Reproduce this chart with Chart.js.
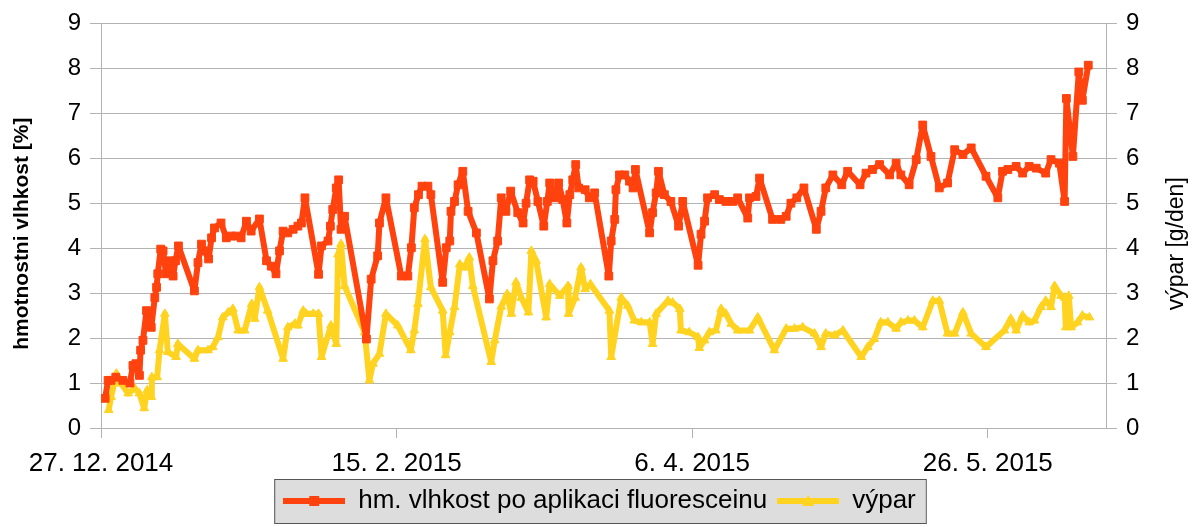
<!DOCTYPE html>
<html>
<head>
<meta charset="utf-8">
<script src="https://cdn.jsdelivr.net/npm/chart.js@4/dist/chart.umd.min.js"></script>
<style>
  html, body { margin: 0; padding: 0; background: #fff; }
  #wrap { width: 1199px; height: 527px; }
</style>
</head>
<body>
<div id="wrap"><canvas id="chart" width="1199" height="527"></canvas></div>
<script>
// days counted from 27. 12. 2014
var startDate = [2014, 11, 27];

var moistureLabel = 'hm. vlhkost po aplikaci fluoresceinu';
var moistureDays = [0.7,1.2,1.7,2.5,3.7,4.9,5.4,5.9,6.5,6.7,7.1,7.7,8.0,8.5,9.1,9.4,9.6,10.1,10.5,11.0,11.6,12.2,12.6,13.1,15.8,16.4,17.0,17.5,18.2,18.7,19.2,20.3,21.2,22.0,22.9,23.7,24.6,25.4,26.8,28.0,28.8,29.6,30.2,30.8,31.6,32.5,33.3,33.9,34.5,36.8,37.3,38.4,38.8,39.2,39.8,40.2,40.6,41.2,44.9,45.7,46.8,47.1,48.2,50.8,51.9,52.5,53.0,53.7,54.3,55.3,55.8,57.8,58.4,59.0,59.2,59.8,60.4,61.2,62.1,63.5,65.7,66.3,67.1,67.7,68.5,69.3,70.5,71.4,71.9,72.5,73.1,73.9,74.9,75.5,75.9,76.7,77.4,78.1,78.8,79.3,79.8,80.3,80.8,81.9,82.6,83.5,85.9,86.3,86.9,87.1,87.7,88.6,89.4,90.0,90.4,92.8,93.3,93.9,94.3,95.3,96.4,97.7,98.4,101.0,101.5,102.1,102.6,103.8,104.6,105.7,106.9,107.7,109.4,109.7,110.8,111.4,113.6,115.0,115.9,116.7,117.7,118.9,121.0,121.8,122.6,123.8,125.3,126.3,128.4,129.4,130.5,131.7,133.4,134.5,135.3,136.7,137.9,139.0,140.4,141.8,143.2,144.4,145.8,147.2,149.7,151.7,152.5,153.4,154.8,155.9,157.0,158.2,159.8,160.7,162.1,163.0,163.3,164.4,165.4,166.0,167.0];
var moistureValues = [0.66,1.06,1.06,1.13,1.06,1.0,1.39,1.43,1.17,1.73,1.95,2.61,2.39,2.24,2.9,3.13,3.43,3.98,3.94,3.43,3.72,3.38,3.72,4.05,3.05,3.68,4.09,3.94,3.76,4.23,4.45,4.56,4.23,4.27,4.27,4.23,4.6,4.38,4.65,3.72,3.6,3.43,3.94,4.38,4.34,4.42,4.49,4.56,5.12,3.42,4.05,4.16,4.49,4.86,5.34,5.52,4.42,4.71,1.98,3.31,3.83,4.56,5.12,3.38,3.38,4.01,4.9,5.19,5.38,5.38,5.19,3.24,4.01,4.16,4.82,5.04,5.41,5.71,4.82,4.34,2.87,3.72,4.16,5.12,4.82,5.27,4.79,4.56,5.0,5.52,5.49,5.04,4.49,5.04,5.45,5.12,5.45,5.08,4.56,5.19,5.52,5.86,5.34,5.3,5.12,5.23,3.38,4.16,4.64,5.3,5.63,5.63,5.49,5.34,5.75,4.34,4.79,5.23,5.71,5.19,5.04,4.49,5.04,3.62,4.31,4.6,5.12,5.19,5.08,5.04,5.04,5.12,4.67,5.12,5.15,5.56,4.64,4.64,4.71,5.0,5.12,5.34,4.42,4.82,5.34,5.63,5.41,5.71,5.41,5.67,5.75,5.86,5.63,5.89,5.63,5.41,5.97,6.74,6.04,5.34,5.45,6.19,6.08,6.23,5.6,5.12,5.71,5.75,5.82,5.67,5.82,5.78,5.67,5.97,5.89,5.04,7.33,6.04,7.92,7.29,8.07];

var evapLabel = 'výpar';
var evapDays = [1.3,1.7,2.6,3.4,4.6,5.7,6.5,7.3,7.8,8.5,8.6,9.5,9.9,10.8,11.3,12.7,13.0,15.8,16.4,18.1,18.9,19.8,20.6,21.5,22.3,23.2,24.3,25.5,26.0,26.8,28.2,30.8,31.6,32.8,33.3,34.2,34.7,35.9,36.8,37.3,38.9,39.8,40.1,40.6,41.2,44.6,45.4,46.0,47.1,48.2,50.2,52.4,53.0,53.6,54.8,55.8,57.8,58.3,59.0,59.8,60.7,61.5,62.3,62.9,66.0,66.6,67.7,68.7,69.4,70.2,71.1,72.3,72.8,73.6,75.3,75.9,77.6,79.0,79.1,80.2,81.2,81.9,82.8,86.0,86.3,88.0,89.1,90.2,91.4,92.8,93.3,93.9,95.9,96.7,97.9,98.1,99.5,101.0,101.2,102.1,102.9,104.0,104.9,105.7,106.6,107.7,109.7,111.1,113.9,115.9,117.3,118.7,120.7,121.8,122.6,124.1,125.5,128.6,129.7,130.8,131.9,133.1,134.5,135.3,136.5,137.6,139.0,140.7,141.8,143.2,144.4,145.8,147.2,149.7,152.8,153.9,154.8,155.9,157.0,157.9,159.0,159.8,160.7,161.3,162.4,163.0,163.2,163.7,164.1,165.2,166.0,167.2];
var evapValues = [0.4,0.69,1.21,0.99,0.77,0.88,0.77,0.44,0.84,0.69,1.13,1.13,1.73,2.54,1.69,1.58,1.87,1.54,1.73,1.73,1.8,2.02,2.46,2.57,2.65,2.17,2.17,2.76,2.43,3.13,2.61,1.54,2.24,2.32,2.28,2.61,2.54,2.54,2.54,1.58,2.28,1.87,3.86,4.09,3.16,2.13,1.06,1.43,1.65,2.54,2.28,1.73,2.17,2.76,4.2,3.13,2.61,1.62,2.13,2.69,3.64,3.57,3.79,3.16,1.47,1.95,2.7,2.98,2.54,3.24,2.9,2.57,3.94,3.72,2.46,3.2,2.94,3.16,2.54,2.9,3.57,3.09,3.2,2.61,1.58,2.9,2.72,2.39,2.35,2.35,1.87,2.54,2.83,2.79,2.65,2.17,2.13,2.02,1.78,1.95,2.13,2.17,2.65,2.54,2.32,2.17,2.17,2.46,1.73,2.21,2.21,2.24,2.1,1.8,2.1,2.06,2.17,1.58,1.8,1.98,2.35,2.35,2.21,2.35,2.39,2.39,2.24,2.83,2.83,2.1,2.1,2.57,2.1,1.8,2.17,2.43,2.17,2.5,2.35,2.39,2.69,2.83,2.69,3.16,2.94,2.9,2.24,2.94,2.24,2.35,2.5,2.46];

var xTicks = [0, 50, 100, 150];
var yTicks = [0, 1, 2, 3, 4, 5, 6, 7, 8, 9];
var leftTitle = 'hmotnostni vlhkost [%]';
var rightTitle = 'výpar [g/den]';

var redColor = '#ff420e';
var yellowColor = '#ffd320';
var gridColor = '#b3b3b3';
var fontFamily = "'Liberation Sans', Arial, sans-serif";

function toPoints(days, values) {
    return days.map(function (d, i) { return { x: d, y: values[i] }; });
}

function dayLabel(value) {
    var d = new Date(startDate[0], startDate[1], startDate[2] + value);
    return d.getDate() + '. ' + (d.getMonth() + 1) + '. ' + d.getFullYear();
}

// small picture of line + marker for the legend
function legendIcon(color, shape) {
    var c = document.createElement('canvas');
    c.width = 62; c.height = 14;
    var g = c.getContext('2d');
    g.strokeStyle = color; g.lineWidth = 6;
    g.beginPath(); g.moveTo(0, 7); g.lineTo(62, 7); g.stroke();
    g.fillStyle = color;
    if (shape === 'rect') {
        g.fillRect(26, 2, 10, 10);
    } else {
        g.beginPath(); g.moveTo(31, 1); g.lineTo(37, 12); g.lineTo(25, 12); g.closePath(); g.fill();
    }
    return c;
}
var icons = [legendIcon(redColor, 'rect'), legendIcon(yellowColor, 'triangle')];

var decor = {
    id: 'decor',
    beforeDraw: function (chart) {
        var ctx = chart.ctx, lg = chart.legend;
        var boxes = lg.legendHitBoxes;
        if (!boxes || !boxes.length) return;
        var first = boxes[0], last = boxes[boxes.length - 1];
        var x0 = first.left - 9, x1 = last.left + last.width + 10;
        ctx.save();
        ctx.fillStyle = '#dddddd';
        ctx.fillRect(x0, lg.top + 1, x1 - x0, lg.height - 2);
        ctx.strokeStyle = '#555555';
        ctx.lineWidth = 1;
        ctx.strokeRect(x0 + 0.5, lg.top + 1.5, x1 - x0, lg.height - 2);
        ctx.restore();
    },
    afterDraw: function (chart) {
        var ctx = chart.ctx, area = chart.chartArea;
        var mid = (area.top + area.bottom) / 2;
        ctx.save();
        ctx.fillStyle = '#000';
        ctx.textAlign = 'center';
        ctx.textBaseline = 'middle';
        ctx.translate(22, mid + 8);
        ctx.rotate(-Math.PI / 2);
        ctx.font = 'bold 21px ' + fontFamily;
        ctx.fillText(leftTitle, 0, 0);
        ctx.restore();
        ctx.save();
        ctx.fillStyle = '#000';
        ctx.textAlign = 'center';
        ctx.textBaseline = 'middle';
        ctx.translate(chart.width - 22, mid + 18);
        ctx.rotate(-Math.PI / 2);
        ctx.font = '23px ' + fontFamily;
        ctx.fillText(rightTitle, 0, 0);
        ctx.restore();
    }
};

var ctx = document.getElementById('chart').getContext('2d');
var chart = new Chart(ctx, {
    type: 'line',
    data: {
        datasets: [{
            label: moistureLabel,
            data: toPoints(moistureDays, moistureValues),
            yAxisID: 'y',
            borderColor: redColor,
            backgroundColor: redColor,
            borderWidth: 6,
            borderJoinStyle: 'round',
            pointStyle: 'rect',
            pointRadius: 5.5,
            pointBorderWidth: 1,
            tension: 0
        }, {
            label: evapLabel,
            data: toPoints(evapDays, evapValues),
            yAxisID: 'y1',
            borderColor: yellowColor,
            backgroundColor: yellowColor,
            borderWidth: 6,
            borderJoinStyle: 'round',
            pointStyle: 'triangle',
            pointRadius: 5,
            pointBorderWidth: 1,
            tension: 0
        }]
    },
    options: {
        responsive: false,
        animation: false,
        devicePixelRatio: 1,
        layout: { padding: { top: 21, bottom: 3, left: 0, right: 0 } },
        plugins: {
            tooltip: { enabled: false },
            legend: {
                position: 'bottom',
                labels: {
                    usePointStyle: true,
                    pointStyleWidth: 62,
                    padding: 10,
                    color: '#000',
                    font: { family: fontFamily, size: 26 },
                    generateLabels: function (chart) {
                        var items = Chart.defaults.plugins.legend.labels.generateLabels(chart);
                        items.forEach(function (it, i) { it.pointStyle = icons[i]; });
                        return items;
                    }
                }
            }
        },
        scales: {
            x: {
                type: 'linear',
                min: 0,
                max: 170,
                afterBuildTicks: function (scale) {
                    scale.ticks = xTicks.map(function (v) { return { value: v }; });
                },
                afterFit: function (scale) { scale.height = 50; },
                grid: { drawOnChartArea: false, drawTicks: true, tickLength: 10, color: gridColor },
                border: { color: gridColor },
                ticks: {
                    color: '#000',
                    padding: 10,
                    maxRotation: 0,
                    font: { family: fontFamily, size: 26 },
                    callback: function (v) { return dayLabel(v); }
                }
            },
            y: {
                position: 'left',
                min: 0,
                max: 9,
                afterBuildTicks: function (scale) {
                    scale.ticks = yTicks.map(function (v) { return { value: v }; });
                },
                afterFit: function (scale) { scale.width = 101; },
                grid: { color: gridColor, tickLength: 11 },
                border: { color: gridColor },
                ticks: { color: '#000', padding: 9, font: { family: fontFamily, size: 24 } }
            },
            y1: {
                position: 'right',
                min: 0,
                max: 9,
                afterBuildTicks: function (scale) {
                    scale.ticks = yTicks.map(function (v) { return { value: v }; });
                },
                afterFit: function (scale) { scale.width = 93; },
                grid: { drawOnChartArea: false, color: gridColor, tickLength: 11 },
                border: { color: gridColor },
                ticks: { color: '#000', padding: 9, font: { family: fontFamily, size: 24 } }
            }
        }
    },
    plugins: [decor]
});
</script>
</body>
</html>
